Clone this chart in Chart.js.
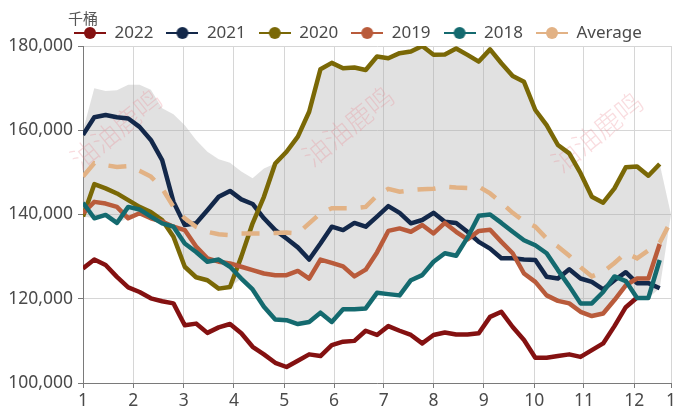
<!DOCTYPE html>
<html>
<head>
<meta charset="utf-8">
<script src="https://cdn.jsdelivr.net/npm/chart.js@4.4.1/dist/chart.umd.min.js"></script>
<style>
  html, body { margin: 0; padding: 0; background: #fff; }
  #wrap { width: 673px; height: 408px; }
</style>
</head>
<body>
<div id="wrap"><canvas id="myChart"></canvas></div>
<script>
// x = week of year (1..53), month labels sit along the week scale
const weeks = [...Array(53).keys()].map(i => i + 1);
const monthTicks = [1, 5.45, 9.9, 14.35, 18.8, 23.2, 27.6, 32.0, 36.45, 40.9, 45.3, 49.75, 53];
const monthLabels = ['1', '2', '3', '4', '5', '6', '7', '8', '9', '10', '11', '12', '1'];

// 千桶
const v2022 = [127200,129300,128000,125200,122700,121600,120100,119400,118900,113700,
  114100,111900,113200,114000,111800,108600,106800,104800,103800,105300,
  106800,106400,109000,109800,110000,112400,111400,113500,112400,111400,
  109400,111400,112000,111500,111500,111800,115700,116900,113300,110200,
  106000,106000,106400,106800,106200,107800,109400,113500,118000,120300];
const v2021 = [158900,163100,163600,163100,162800,160800,157700,152900,143000,137500,
  137900,141000,144200,145600,143600,142500,139100,136300,134300,132200,
  129300,133100,137100,136300,138000,137100,139500,142000,140400,137900,
  138700,140400,138300,138000,135900,133500,131900,129600,129600,129300,
  129200,125200,124800,127000,124800,124000,122200,124400,126300,123700,
  123700,122500];
const v2020 = [139500,147200,146200,145000,143400,141800,140600,138700,134700,127600,
  125100,124400,122400,122800,130000,137900,144200,152100,154900,158500,
  164400,174500,176000,174700,174900,174300,177500,177100,178300,178700,
  180000,177900,178000,179400,177900,176300,179200,175900,172900,171500,
  164800,161200,156500,154500,149800,144200,142800,146200,151200,151400,
  149200,152000];
const v2019 = [140300,143000,142600,141800,139100,140300,139100,138300,137100,136300,
  132400,129600,128800,128400,127600,126800,126000,125600,125600,126600,
  124800,129300,128500,127700,125300,126900,131000,136100,136700,135900,
  137500,135500,138000,135900,134100,136100,136400,133500,130800,126000,
  124000,120800,119500,118900,116900,115900,116500,119700,123200,124800,
  124800,133000];
const v2018 = [142800,139100,139900,138000,141800,141200,139500,137900,137100,133100,
  131100,128800,129300,127600,124800,122200,118100,115100,114900,114000,
  114500,116700,114500,117500,117500,117700,121400,121100,120800,124400,
  125600,128800,130800,130200,134500,139700,140000,138000,135900,133900,
  132700,130800,126800,123000,118900,118900,121600,125300,124200,120200,
  120200,129200];
const vAvg = [149000,152200,151700,151300,151500,150400,149000,146200,141800,139100,
  137100,135900,135300,135100,135500,135500,135500,135600,135700,135500,
  137900,140300,141500,141500,141500,141800,144500,146100,145400,145800,
  146000,146100,146600,146400,146300,146600,145000,142800,140400,138400,
  137100,134300,132400,130200,127500,125300,126400,128500,130900,129600,
  131500,133300,138500];
// 区间上下沿
const rangeMax = [160000,170000,169300,169500,170800,170800,169600,165200,163800,161200,
  157700,154900,153100,152300,150200,148600,150900,152100,154900,158500,
  164400,174500,176000,174700,174900,174300,177500,177100,178300,178700,
  180000,177900,178000,179400,177900,176300,179200,175900,172900,171500,
  164800,161200,156500,154500,149800,144200,142800,146200,151200,151400,
  149200,152000,140000];
const rangeMin = [139500,139100,139900,138000,139100,140300,139100,137900,134700,127600,
  125100,124400,122400,122800,124800,122200,118100,115100,114900,114000,
  114500,116700,114500,117500,117500,117700,121400,121100,120800,124400,
  125600,128800,130800,130200,134100,133500,131900,129600,129600,126000,
  124000,120800,119500,118900,116900,115900,116500,119700,123200,120200,
  120200,122500,140000];

const textColor = '#4a4a4a';
const axisColor = '#7a7a7a';
const gridColor = '#d6d6d6';

Chart.defaults.font.family = '"Noto Sans", "Open Sans", sans-serif';

function pts(arr) {
    return arr.map((v, i) => ({x: weeks[i], y: v}));
}

// legend marker: short line with a dot
function legendIcon(color) {
    const c = document.createElement('canvas');
    c.width = 32; c.height = 14;
    const g = c.getContext('2d');
    g.strokeStyle = color; g.lineWidth = 2;
    g.beginPath(); g.moveTo(0, 7); g.lineTo(32, 7); g.stroke();
    g.fillStyle = color;
    g.beginPath(); g.arc(16, 7, 6, 0, Math.PI * 2); g.fill();
    return c;
}

function line(label, data, color, extra) {
    return Object.assign({
        label: label,
        data: pts(data),
        borderColor: color,
        backgroundColor: color,
        borderWidth: 4.5,
        borderJoinStyle: 'round',
        pointRadius: 0,
        pointHoverRadius: 0,
        pointStyle: legendIcon(color),
        tension: 0,
        fill: false
    }, extra || {});
}

const shiftLegend = {
    id: 'shiftLegend',
    afterLayout(chart) {
        const lg = chart.legend;
        lg.left += 61; lg.right += 61;
        lg.top += 5.5; lg.bottom += 5.5;
    }
};

const unitLabel = {
    id: 'unitLabel',
    afterDraw(chart) {
        const c = chart.ctx;
        c.save();
        c.font = '15px "Noto Sans CJK SC"';
        c.fillStyle = '#555';
        c.textBaseline = 'middle';
        c.fillText('千桶', 68, 18);
        c.restore();
    }
};

const watermark = {
    id: 'watermark',
    afterDatasetDraw(chart, args) {
        if (args.index !== 6) return;
        const c = chart.ctx;
        c.save();
        c.font = '300 27px "Noto Sans CJK SC"';
        c.fillStyle = 'rgba(232,130,140,0.28)';
        c.textAlign = 'center';
        c.textBaseline = 'middle';
        [[116, 129], [348, 126], [597, 132]].forEach(p => {
            c.save();
            c.translate(p[0], p[1]);
            c.rotate(-39 * Math.PI / 180);
            c.fillText('油油鹿鸣', 0, 0);
            c.restore();
        });
        c.restore();
    }
};

const ctx = document.getElementById('myChart').getContext('2d');

let chart = new Chart(ctx, {
    type: 'line',
    data: {
        datasets: [
            line('Average', vAvg, '#e2b285', {borderDash: [18, 14], borderJoinStyle: 'miter'}),
            line('2018', v2018, '#146a6f'),
            line('2019', v2019, '#b95b3b'),
            line('2020', v2020, '#7a6806'),
            line('2021', v2021, '#13284a'),
            line('2022', v2022, '#841111'),
            {
                label: 'max', data: pts(rangeMax), order: 1,
                borderWidth: 0, borderColor: 'rgba(0,0,0,0)', pointRadius: 0,
                backgroundColor: 'rgba(170,170,170,0.35)', fill: '+1', tension: 0
            },
            {
                label: 'min', data: pts(rangeMin), order: 1,
                borderWidth: 0, borderColor: 'rgba(0,0,0,0)', pointRadius: 0,
                fill: false, tension: 0
            }
        ]
    },
    options: {
        responsive: true,
        maintainAspectRatio: false,
        animation: false,
        devicePixelRatio: 1,
        layout: { padding: { top: 6, right: 2, left: 0, bottom: 0 } },
        plugins: {
            tooltip: { enabled: false },
            legend: {
                position: 'top',
                align: 'start',
                reverse: true,
                labels: {
                    usePointStyle: true,
                    pointStyleWidth: 32,
                    padding: 13,
                    color: textColor,
                    font: { size: 17 },
                    filter: item => item.text !== 'max' && item.text !== 'min'
                }
            }
        },
        scales: {
            x: {
                type: 'linear',
                min: 1,
                max: 53,
                afterBuildTicks: s => { s.ticks = monthTicks.map(v => ({value: v})); },
                afterFit: s => { s.height = 25; s.paddingLeft = 0; s.paddingRight = 0; },
                ticks: {
                    autoSkip: false,
                    maxRotation: 0,
                    padding: 3,
                    color: textColor,
                    font: { size: 17.5 },
                    callback: (v, i) => monthLabels[i]
                },
                grid: { color: gridColor, tickLength: 5, tickColor: axisColor },
                border: { color: axisColor, width: 1 }
            },
            y: {
                min: 100000,
                max: 180000,
                afterFit: s => { s.width = 83; },
                ticks: {
                    stepSize: 20000,
                    padding: 5,
                    color: textColor,
                    font: { size: 17.5 },
                    callback: v => v.toLocaleString('en-US')
                },
                grid: { color: gridColor, tickLength: 5, tickColor: axisColor },
                border: { color: axisColor, width: 1 }
            }
        }
    },
    plugins: [shiftLegend, watermark, unitLabel]
});
</script>
</body>
</html>
